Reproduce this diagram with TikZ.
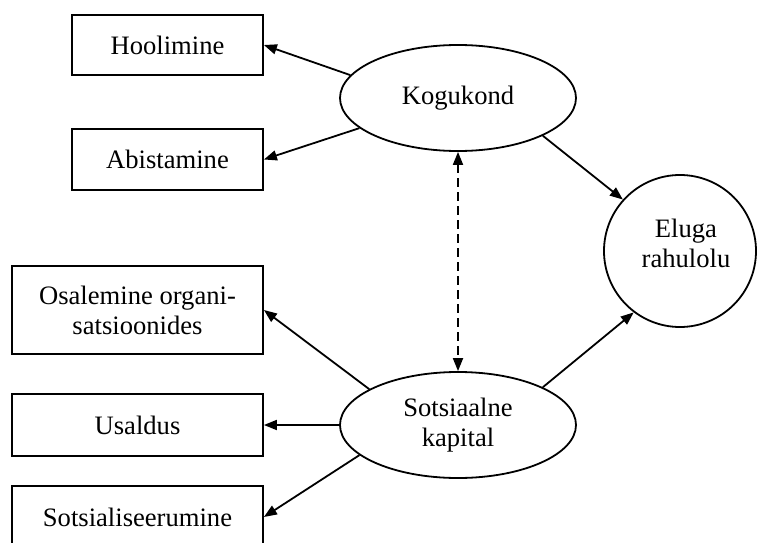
\documentclass[tikz,border=0pt]{standalone}
\usepackage{fontspec}
\setmainfont{Liberation Serif}
\usetikzlibrary{arrows.meta,shapes.geometric}
\begin{document}
\begin{tikzpicture}[x=1pt,y=-1pt,
  every node/.style={font=\fontsize{26.6}{30}\selectfont, align=center, inner sep=0pt},
  box/.style={draw, line width=1.8pt, rectangle},
  oval/.style={draw, line width=1.8pt, ellipse, minimum width=236pt, minimum height=106pt},
  ring/.style={draw, line width=1.8pt, circle, minimum size=152pt},
  conn/.style={line width=1.8pt, -{Triangle[length=13pt,width=10pt]}},
  dconn/.style={line width=1.8pt, dash pattern=on 9pt off 5pt, {Triangle[length=13pt,width=10pt]}-{Triangle[length=13pt,width=10pt]}}]
\useasboundingbox (0,0) rectangle (763,543);
\node[box, minimum width=191pt, minimum height=60pt] (hool) at (167.5,45) {Hoolimine};
\node[box, minimum width=191pt, minimum height=61pt] (abi) at (167.5,159.5) {Abistamine};
\node[box, minimum width=251pt, minimum height=88pt] (osal) at (137.5,310) {Osalemine organi-\\satsioonides};
\node[box, minimum width=251pt, minimum height=62pt] (usal) at (137.5,425) {Usaldus};
\node[box, minimum width=251pt, minimum height=62pt] (sots) at (137.5,517) {Sotsialiseerumine};
\node[oval] (kog) at (458,98) {Kogukond};
\node[oval] (kap) at (458,425) {Sotsiaalne\\kapital};
\node[ring] (elu) at (680,251) {};
\node (elut) at (686,243) {Eluga\\rahulolu};
\draw[conn] (kog.168) -- (hool.east);
\draw[conn] (kog.197) -- (abi.east);
\draw[conn] (kog.-24) -- (elu.138);
\draw[dconn] (kog.south) -- (kap.north);
\draw[conn] (kap.158) -- (osal.east);
\draw[conn] (kap.west) -- (usal.east);
\draw[conn] (kap.197) -- (sots.east);
\draw[conn] (kap.24) -- (elu.233);
\end{tikzpicture}
\end{document}
